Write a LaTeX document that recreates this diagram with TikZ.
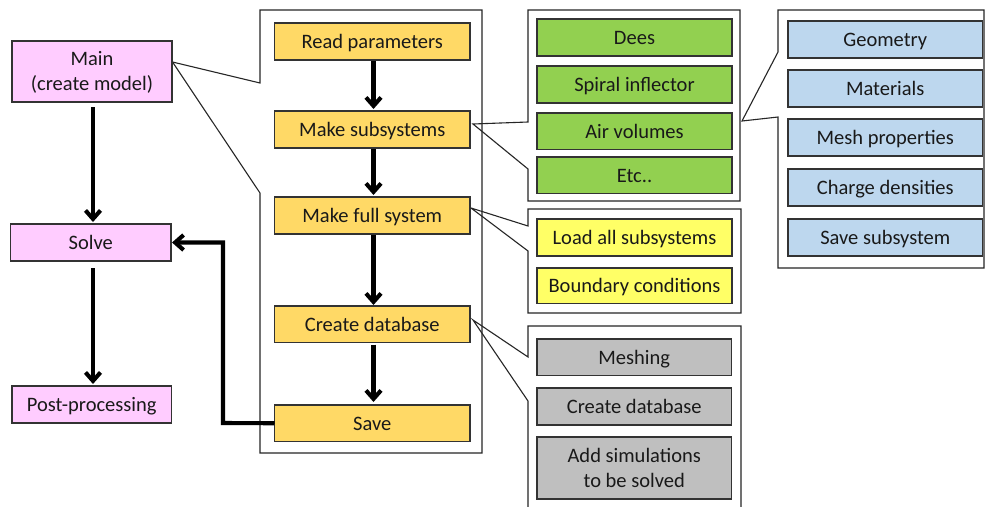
\documentclass[tikz,border=0pt]{standalone}
\usepackage{fontspec}
\setmainfont{Carlito}
\usetikzlibrary{arrows.meta}
\definecolor{cpink}{HTML}{FFCCFF}
\definecolor{corange}{HTML}{FFD966}
\definecolor{cgreen}{HTML}{92D050}
\definecolor{cyellow}{HTML}{FFFF66}
\definecolor{cblue}{HTML}{BDD7EE}
\definecolor{cgray}{HTML}{BFBFBF}
\begin{document}
\begin{tikzpicture}[x=1pt,y=-1pt,
  every node/.style={font=\fontsize{20.5}{25}\selectfont, text=black!90},
  boxbase/.style={draw=black!80, line width=1.2pt, anchor=north west, inner sep=0pt, outer sep=0pt, align=center, text height=15pt, text depth=1.4pt},
  twoline/.style={text height=40pt},
  pinkbox/.style={boxbase, fill=cpink},
  orbox/.style={boxbase, fill=corange},
  grbox/.style={boxbase, fill=cgreen},
  yebox/.style={boxbase, fill=cyellow},
  blbox/.style={boxbase, fill=cblue},
  gybox/.style={boxbase, fill=cgray},
  frame/.style={draw=black!85, line width=1.1pt, line join=miter},
  arr/.style={line width=4.1pt, -{Straight Barb[length=8.5pt,width=15pt]}},
]
\fill[white] (0,0) rectangle (985,506);
\useasboundingbox (0,0) rectangle (985,506);

% callout tips
\coordinate (t0) at (172.5,62);
\coordinate (tg) at (473,124);
\coordinate (ty) at (471,208);
\coordinate (tb) at (742,121);
\coordinate (tgr) at (473,320);

% callout frames
\draw[frame] (260,83) -- (t0) -- (260,193) -- (260,453) -- (482,453) -- (482,10) -- (260,10) -- cycle;
\draw[frame] (528,122) -- (tg) -- (528,169) -- (528,201) -- (740,201) -- (740,10) -- (528,10) -- cycle;
\draw[frame] (528,226) -- (ty) -- (528,251) -- (528,313) -- (741,313) -- (741,209) -- (528,209) -- cycle;
\draw[frame] (778,52) -- (tb) -- (778,117) -- (778,268) -- (984,268) -- (984,10) -- (778,10) -- cycle;
\draw[frame] (528,508) -- (528,401) -- (tgr) -- (528,357) -- (528,326) -- (741,326) -- (741,508);

% left column
\node[pinkbox, twoline, minimum width=160pt, minimum height=61pt] (main) at (12,41) {Main\\(create model)};
\node[pinkbox, minimum width=160.5pt, minimum height=37pt] (solve) at (10.5,224) {Solve};
\node[pinkbox, minimum width=159.5pt, minimum height=37pt] (post) at (12,386) {Post-processing};

% main process
\node[orbox, minimum width=195.5pt, minimum height=37pt] (read) at (274.5,23) {Read parameters};
\node[orbox, minimum width=195.5pt, minimum height=37pt] (msub) at (274.5,111) {Make subsystems};
\node[orbox, minimum width=195.5pt, minimum height=37pt] (mfull) at (274.5,197) {Make full system};
\node[orbox, minimum width=195.5pt, minimum height=36.5pt] (cdb) at (274.5,306) {Create database};
\node[orbox, minimum width=195.5pt, minimum height=36.5pt] (save) at (274.5,405) {Save};

% subsystems
\node[grbox, minimum width=195pt, minimum height=37pt] (dees) at (537,19) {Dees};
\node[grbox, minimum width=195pt, minimum height=37pt] (spiral) at (537,66) {Spiral inflector};
\node[grbox, minimum width=195pt, minimum height=36.5pt] (air) at (537,113) {Air volumes};
\node[grbox, minimum width=195pt, minimum height=36.5pt] (etc) at (537,157) {Etc..};

% full system
\node[yebox, minimum width=195pt, minimum height=37pt] (load) at (537,219) {Load all subsystems};
\node[yebox, minimum width=195pt, minimum height=35.5pt] (bc) at (537,268) {Boundary conditions};

% subsystem details
\node[blbox, minimum width=194.5pt, minimum height=37pt] (geo) at (788,21) {Geometry};
\node[blbox, minimum width=194.5pt, minimum height=37pt] (mat) at (788,70) {Materials};
\node[blbox, minimum width=194.5pt, minimum height=37pt] (mesh) at (788,119) {Mesh properties};
\node[blbox, minimum width=194.5pt, minimum height=37pt] (charge) at (788,169) {Charge densities};
\node[blbox, minimum width=194.5pt, minimum height=37pt] (savesub) at (788,219) {Save subsystem};

% database
\node[gybox, minimum width=194.5pt, minimum height=36.5pt] (meshing) at (537,339) {Meshing};
\node[gybox, minimum width=194.5pt, minimum height=37pt] (cdb2) at (537,388) {Create database};
\node[gybox, twoline, minimum width=194.5pt, minimum height=62pt] (addsim) at (537,437) {Add simulations\\to be solved};

% arrows
\draw[arr, shorten <=5pt, shorten >=2pt] (main.south -| 93,0) -- (solve.north -| 93,0);
\draw[arr, shorten <=7pt, shorten >=2pt] (solve.south -| 93,0) -- (post.north -| 93,0);
\draw[arr, shorten <=1pt, shorten >=2pt] (read.south -| 373.5,0) -- (msub.north -| 373.5,0);
\draw[arr, shorten <=1pt, shorten >=2pt] (msub.south -| 373.5,0) -- (mfull.north -| 373.5,0);
\draw[arr, shorten <=1pt, shorten >=1pt] (mfull.south -| 373.5,0) -- (cdb.north -| 373.5,0);
\draw[arr, shorten <=2pt, shorten >=3pt] (cdb.south -| 373.5,0) -- (save.north -| 373.5,0);
\coordinate (fb) at (223,423);
\draw[arr, line join=miter, shorten >=1pt] (save.west) -- (fb) |- (solve.east);
\end{tikzpicture}
\end{document}
